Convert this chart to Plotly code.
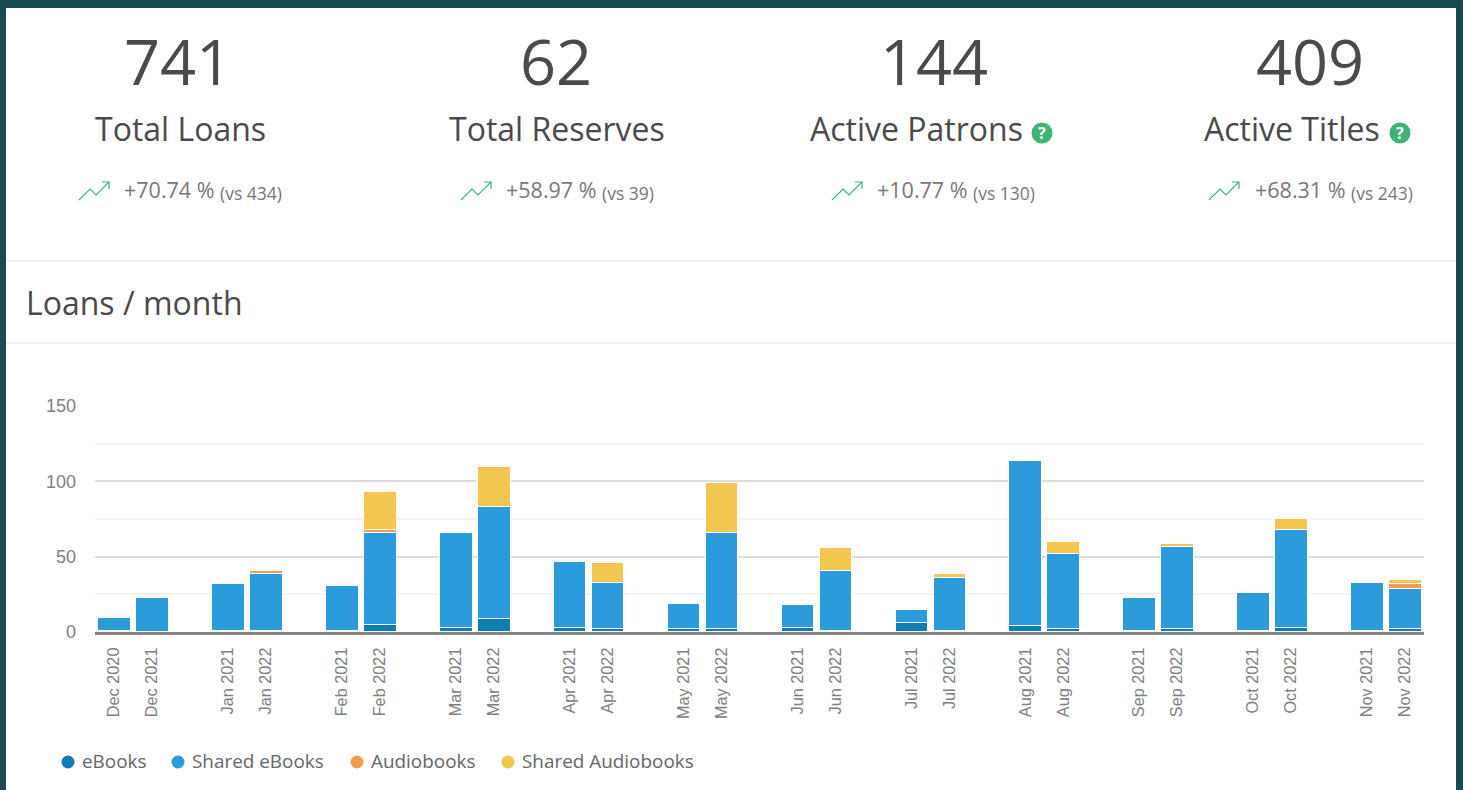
import plotly.graph_objects as go

W, H = 1463, 790

# ---- data ----
months = ["Dec", "Jan", "Feb", "Mar", "Apr", "May", "Jun", "Jul", "Aug", "Sep", "Oct", "Nov"]
first_years = [2020, 2021, 2021, 2021, 2021, 2021, 2021, 2021, 2021, 2021, 2021, 2021]
second_years = [2021, 2022, 2022, 2022, 2022, 2022, 2022, 2022, 2022, 2022, 2022, 2022]

ebooks_first = [1, 1, 1, 3, 3, 2, 3, 6, 4, 1, 1, 1]
shared_ebooks_first = [8.5, 31, 30, 63, 44, 17, 15, 9, 110, 22, 25, 32]
audio_first = [0, 0, 0, 0, 0, 0, 0, 0, 0, 0, 0, 0]
shared_audio_first = [0, 0, 0, 0, 0, 0, 0, 0, 0, 0, 0, 0]

ebooks_second = [0, 1, 5, 9, 2, 2, 1, 1, 2, 2, 3, 2]
shared_ebooks_second = [23, 38, 61, 74, 31, 64, 40, 35, 50, 55, 65, 27]
audio_second = [0, 2, 2, 0, 0, 0, 0, 0, 0, 0, 0, 3]
shared_audio_second = [0, 0, 25, 27, 13, 33, 15, 3, 8, 2, 7, 3]

series_names = ["eBooks", "Shared eBooks", "Audiobooks", "Shared Audiobooks"]
series_colors = ["#0f7db3", "#2b9bdc", "#f59b4c", "#f3c74f"]
series_first = [ebooks_first, shared_ebooks_first, audio_first, shared_audio_first]
series_second = [ebooks_second, shared_ebooks_second, audio_second, shared_audio_second]

kpi_values = ["741", "62", "144", "409"]
kpi_labels = ["Total Loans", "Total Reserves", "Active Patrons", "Active Titles"]
kpi_changes = ["+70.74 %", "+58.97 %", "+10.77 %", "+68.31 %"]
kpi_versus = ["(vs 434)", "(vs 39)", "(vs 130)", "(vs 243)"]
kpi_help = [False, False, True, True]

# ---- layout constants (pixels) ----
FONT = "Open Sans"
DARK, GREY, GREEN = "#4a4a4a", "#777777", "#3fb374"
kpi_value_x = [178, 556, 934, 1310]
kpi_label_x = [180, 557, 916, 1292]
kpi_icon_x = [79, 461, 832, 1209]
kpi_change_x = [122, 504, 875, 1253]
kpi_vs_x = [218, 600, 971, 1349]
kpi_help_x = [None, None, 1042, 1400]
legend_marker_x = [68, 178, 357, 508]
Y_TOP_VALUE = 150.5
PX_PER_UNIT = (632 - 406) / 150

px = lambda x: x / W
py = lambda y: 1 - y / H

annotations, shapes = [], []


def text(x, y, s, size, color=DARK, anchor="center", family=FONT):
    annotations.append(dict(
        x=px(x), y=py(y), xref="paper", yref="paper", text=s, showarrow=False,
        xanchor=anchor, yanchor="middle", align=anchor,
        font=dict(family=family, size=size, color=color),
    ))


def rect(x0, y0, x1, y1, color):
    shapes.append(dict(type="rect", xref="paper", yref="paper", layer="below",
                       x0=px(x0), x1=px(x1), y0=py(y0), y1=py(y1),
                       fillcolor=color, line=dict(width=0)))


def circle(cx, cy, r, color):
    shapes.append(dict(type="circle", xref="paper", yref="paper",
                       x0=px(cx - r), x1=px(cx + r), y0=py(cy + r), y1=py(cy - r),
                       fillcolor=color, line=dict(width=0)))


def trend_icon(x0):
    pts = [(0, 200), (11, 189), (17, 195), (30, 182)]
    head = [(23, 182), (30, 182), (30, 189)]
    for seq in (pts, head):
        d = "M" + " L".join(f"{px(x0 + a)},{py(b)}" for a, b in seq)
        shapes.append(dict(type="path", xref="paper", yref="paper", path=d,
                           line=dict(color=GREEN, width=1.2)))


rect(6, 8, 1456, 790, "#ffffff")
rect(6, 260, 1456, 262, "#efefef")
rect(6, 342, 1456, 344, "#efefef")

for i in range(4):
    text(kpi_value_x[i], 61, kpi_values[i], 63)
    text(kpi_label_x[i], 128.5, kpi_labels[i], 32)
    trend_icon(kpi_icon_x[i])
    text(kpi_change_x[i], 190, kpi_changes[i], 21.5, GREY, "left")
    text(kpi_vs_x[i], 193, kpi_versus[i], 17.5, GREY, "left")
    if kpi_help[i]:
        circle(kpi_help_x[i], 133, 10.5, GREEN)
        text(kpi_help_x[i], 133, "<b>?</b>", 16, "#ffffff")

text(24, 302, "Loans / month", 32, DARK, "left")

for name, color, mx in zip(series_names, series_colors, legend_marker_x):
    circle(mx, 762, 6.5, color)
    text(mx + 11.5, 761, name, 18.9, "#666666", "left")

# ---- chart: pairs of bars separated by an empty slot ----
x_slots, tick_text = [], []
for i, m in enumerate(months):
    x_slots += [3 * i, 3 * i + 1]
    tick_text += [f"{m} {first_years[i]}", f"{m} {second_years[i]}"]

fig = go.Figure()
for name, color, a, b in zip(series_names, series_colors, series_first, series_second):
    vals = [v for pair in zip(a, b) for v in pair]
    fig.add_trace(go.Bar(x=x_slots, y=vals, name=name, width=0.86,
                         marker=dict(color=color, line=dict(color="#ffffff", width=1)),
                         showlegend=False))

fig.update_layout(
    width=W, height=H, barmode="stack", autosize=False,
    margin=dict(l=0, r=0, t=0, b=0, pad=0, autoexpand=False),
    paper_bgcolor="#1a4a52", plot_bgcolor="rgba(0,0,0,0)",
    font=dict(family="Liberation Sans"),
    annotations=annotations, shapes=shapes,
    xaxis=dict(
        domain=[px(95), px(1424)], range=[-0.5, 34.5], tickmode="array",
        tickvals=x_slots, ticktext=tick_text, tickangle=-90,
        tickfont=dict(family="Liberation Sans", size=16.3, color="#808080"),
        showgrid=False, zeroline=False, ticks="", ticklabelstandoff=6,
        showline=True, linecolor="#858585", linewidth=3, layer="above traces",
        automargin=False,
    ),
    yaxis=dict(
        domain=[py(632), py(632 - Y_TOP_VALUE * PX_PER_UNIT)], range=[0, Y_TOP_VALUE],
        tickmode="array",
        tickvals=[0, 50, 100, 150], ticktext=["0", "50", "100", "150"],
        tickfont=dict(family="Liberation Sans", size=18, color="#808080"),
        showgrid=True, gridcolor="#dcdcdc", gridwidth=1.5, zeroline=False,
        ticks="", ticklabelstandoff=18, automargin=False,
        minor=dict(tickvals=[25, 75, 125], showgrid=True, gridcolor="#f3f3f3", gridwidth=1.5, ticks=""),
    ),
)

fig.write_html("out.html", config=dict(displayModeBar=False),
               post_script="document.body.style.margin='0';document.body.style.overflow='hidden';")
